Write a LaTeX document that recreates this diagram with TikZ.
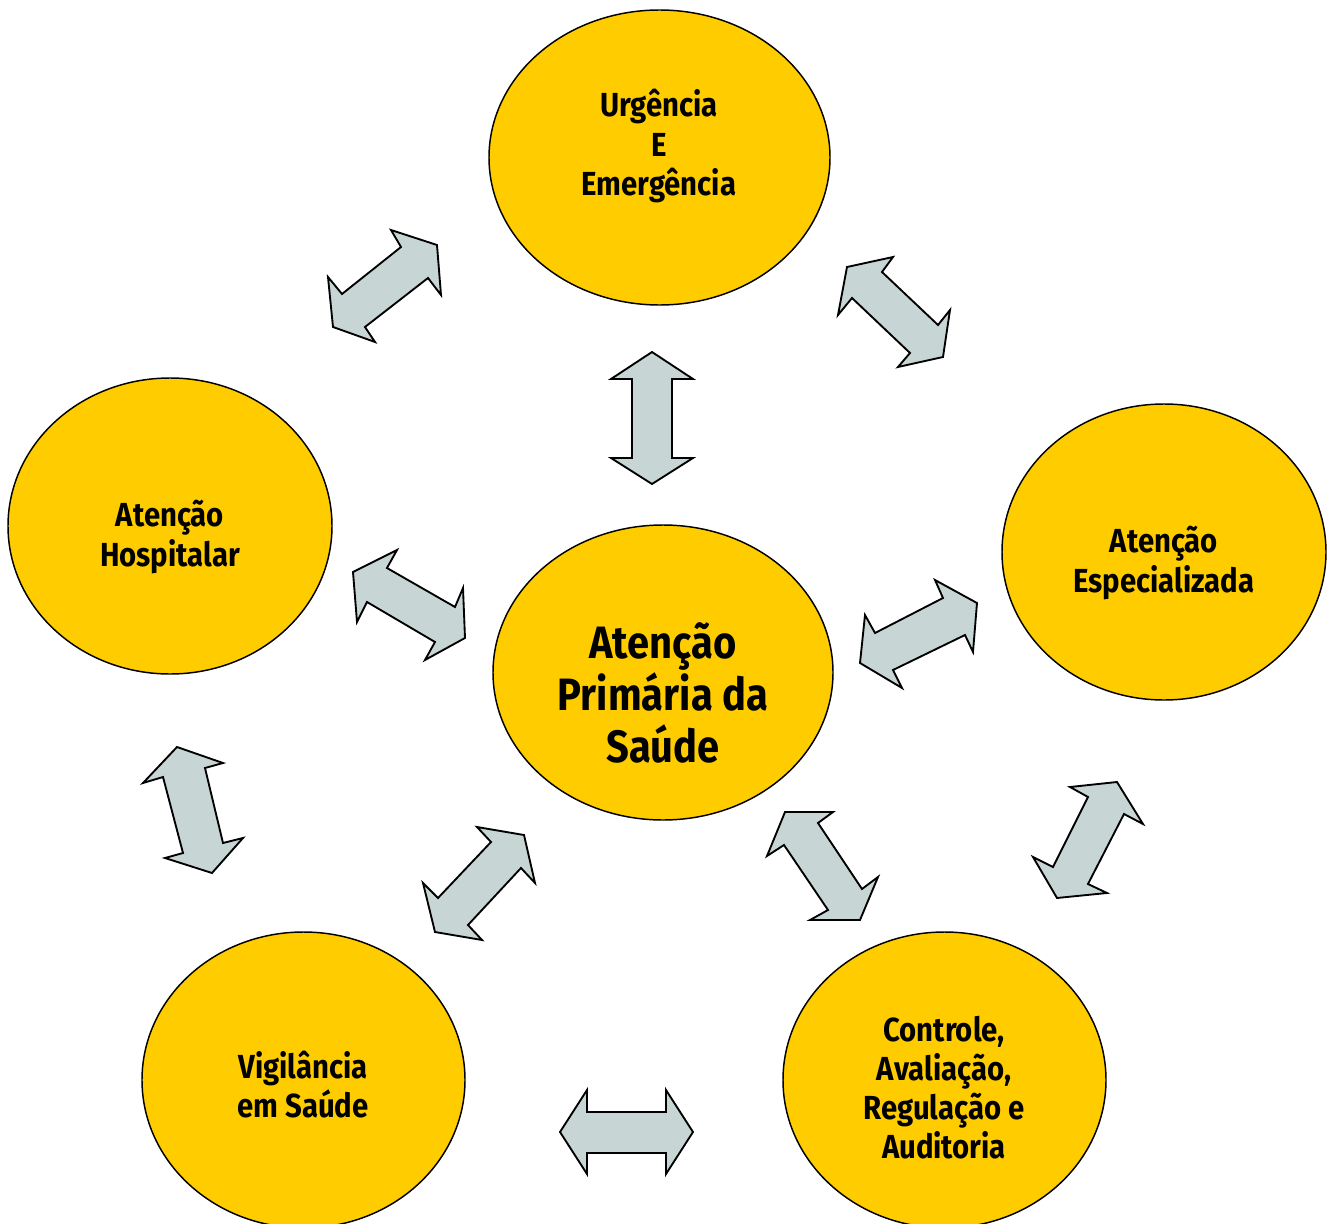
\documentclass[tikz,border=0pt]{standalone}
\usepackage{fontspec}
\newfontfamily\labfont[FakeStretch=0.88]{Fira Sans}
\definecolor{apsyellow}{RGB}{255,204,0}
\definecolor{arrowgray}{RGB}{199,213,212}
\tikzset{every picture/.style={line width=0.75pt}}
\begin{document}
\begin{tikzpicture}[x=0.75pt,y=0.75pt,yscale=-1,xscale=1,
  circ/.style={draw=black,fill=apsyellow,line width=1.1pt},
  flow/.style={draw=black,fill=arrowgray,line width=1.4pt,line join=miter},
  lbl/.style={align=center,inner sep=0.75pt,font={\labfont\bfseries\fontsize{25}{29.3}\selectfont}},
  biglbl/.style={align=center,inner sep=0.75pt,font={\labfont\bfseries\fontsize{34}{39}\selectfont}}]
\path[use as bounding box] (0,0) rectangle (1336,1224);
\clip (0,0) rectangle (1336,1224);

%Shape: Ellipse [urgencia]
\draw [circ] (659.5,157.5) ellipse (170.5 and 147.5);
%Shape: Ellipse [hospitalar]
\draw [circ] (170,526) ellipse (162 and 148);
%Shape: Ellipse [primaria]
\draw [circ] (663,672.5) ellipse (170 and 147.5);
%Shape: Ellipse [especializada]
\draw [circ] (1164,552) ellipse (162 and 148);
%Shape: Ellipse [vigilancia]
\draw [circ] (303.5,1080) ellipse (161.5 and 148);
%Shape: Ellipse [controle]
\draw [circ] (944.5,1080) ellipse (161.5 and 148);

%Shape: Double Arrow [urgencia - hospitalar]
\draw [flow] (391,230) -- (437,245) -- (441,295) -- (428,278) -- (365,327) -- (375,342) -- (333,327) -- (328,277) -- (342,294) -- (401,247) -- cycle ;
%Shape: Double Arrow [urgencia - especializada]
\draw [flow] (893,257) -- (847,267) -- (838,315) -- (852,298) -- (910,353) -- (898,367) -- (943,357) -- (950,310) -- (938,325) -- (882,272) -- cycle ;
%Shape: Double Arrow [urgencia - primaria]
\draw [flow] (652,352) -- (693,379) -- (672,379) -- (672,458) -- (693,458) -- (652,484) -- (611,458) -- (632,458) -- (632,379) -- (611,379) -- cycle ;
%Shape: Double Arrow [hospitalar - primaria]
\draw [flow] (397,550) -- (353,572) -- (357,622) -- (367,602) -- (435,642) -- (425,660) -- (465,638) -- (463,588) -- (455,607) -- (387,568) -- cycle ;
%Shape: Double Arrow [primaria - especializada]
\draw [flow] (935,580) -- (977,603) -- (973,652) -- (965,635) -- (893,670) -- (902,688) -- (860,663) -- (865,615) -- (875,633) -- (943,598) -- cycle ;
%Shape: Double Arrow [hospitalar - vigilancia]
\draw [flow] (177,747) -- (223,763) -- (205,768) -- (223,843) -- (243,838) -- (212,873) -- (165,858) -- (183,853) -- (163,777) -- (143,783) -- cycle ;
%Shape: Double Arrow [primaria - vigilancia]
\draw [flow] (477,827) -- (524,835) -- (535,883) -- (521,868) -- (468,925) -- (482,940) -- (435,932) -- (423,883) -- (438,898) -- (491,842) -- cycle ;
%Shape: Double Arrow [primaria - controle]
\draw [flow] (785,812) -- (833,812) -- (818,823) -- (862,889) -- (878,877) -- (860,920) -- (810,920) -- (828,910) -- (784,845) -- (767,856) -- cycle ;
%Shape: Double Arrow [especializada - controle]
\draw [flow] (1117,782) -- (1143,824) -- (1124,814) -- (1088,884) -- (1107,893) -- (1057,898) -- (1033,857) -- (1053,867) -- (1088,797) -- (1070,787) -- cycle ;
%Shape: Double Arrow [vigilancia - controle]
\draw [flow] (560,1132) -- (587,1090) -- (587,1112) -- (666,1112) -- (666,1090) -- (693,1132) -- (666,1174) -- (666,1153) -- (587,1153) -- (587,1174) -- cycle ;

% Text Node
\node [lbl] (urgtext) at (659,146) {Urgência\\E\\Emergência};
% Text Node
\node [lbl] (hosptext) at (170,537) {Atenção\\Hospitalar};
% Text Node
\node [biglbl] (apstext) at (663,693) {Atenção\\Primária da\\Saúde};
% Text Node
\node [lbl] (esptext) at (1164,563) {Atenção\\Especializada};
% Text Node
\node [lbl] (vigtext) at (303,1085) {Vigilância\\em Saúde};
% Text Node
\node [lbl] (ctrltext) at (944,1088) {Controle,\\Avaliação,\\Regulação e\\Auditoria};

\end{tikzpicture}
\end{document}
